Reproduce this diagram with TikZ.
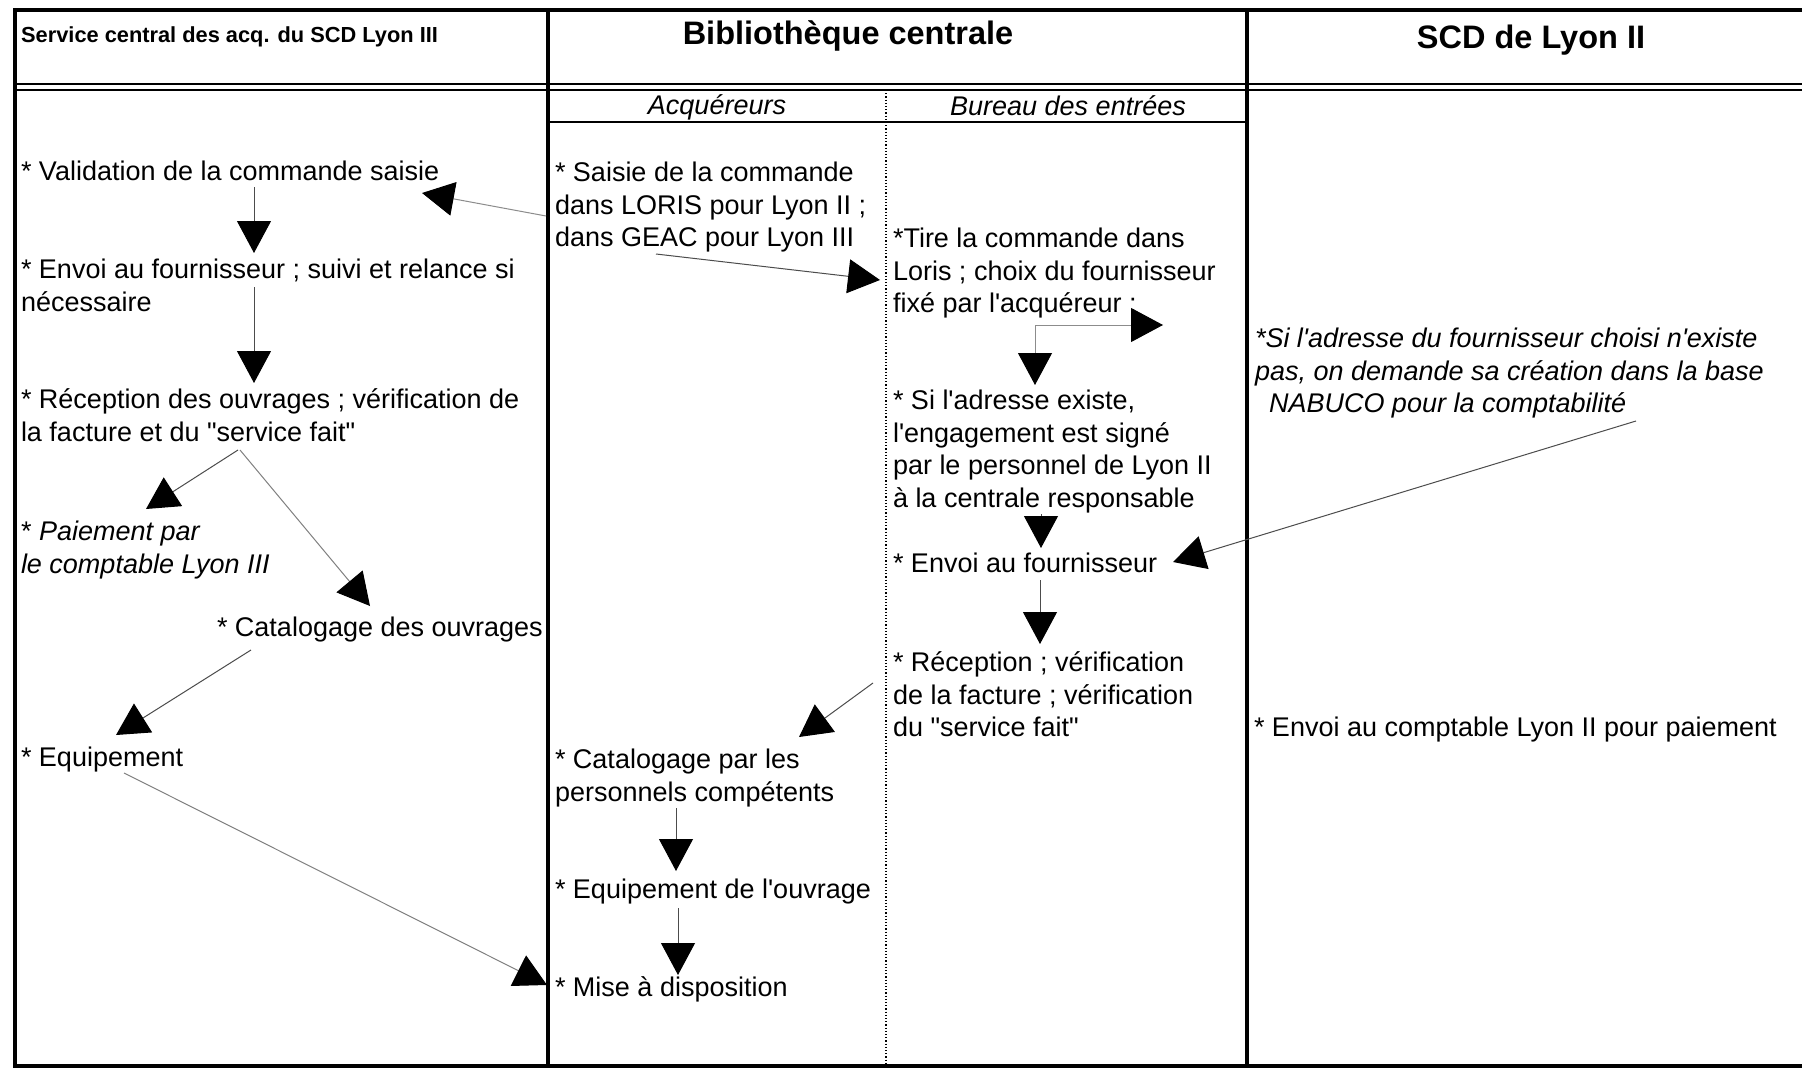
\documentclass[tikz,border=0pt]{standalone}
\usepackage{fontspec}
\setmainfont{Liberation Sans}[Ligatures=TeXOff]
\usetikzlibrary{arrows.meta}
\newcommand\bodyfs{\fontsize{27}{32.75}\selectfont}
\tikzset{
  txt/.style={anchor=north west, inner sep=0pt, outer sep=0pt, align=left, font=\bodyfs, yshift=-2.5pt},
  sub/.style={anchor=base, inner sep=0pt, font=\bodyfs\itshape, yshift=-2pt},
  arr/.style={draw=black!70, line width=1pt, -{Triangle[length=32pt,width=34pt,color=black]}},
  thick frame/.style={line width=4pt, line cap=rect},
}
\begin{document}
\begin{tikzpicture}[x=1pt,y=-1pt]
\useasboundingbox (0,0) rectangle (1802,1070);
\fill[white] (0,0) rectangle (1802,1070);

% frame
\draw[thick frame] (1802,10) -- (15,10) -- (15,1066) -- (1802,1066);
\draw[thick frame] (548,10) -- (548,1066);
\draw[thick frame] (1247,10) -- (1247,1066);
\draw[line width=2.5pt] (15,84) -- (1802,84);
\draw[line width=1.5pt] (15,90) -- (1802,90);
\draw[line width=2.5pt] (548,122) -- (1247,122);
\draw[line width=1.2pt, dotted] (886,90) -- (886,1066);

% headers
\node[anchor=base west, inner sep=0pt, font=\fontsize{21.8}{26}\selectfont\bfseries] (h1) at (21,43) {Service central des acq. du SCD Lyon III};
\node[anchor=base, inner sep=0pt, font=\fontsize{32.5}{39}\selectfont\bfseries] (h2) at (848,45) {Bibliothèque centrale};
\node[anchor=base, inner sep=0pt, font=\fontsize{32.5}{39}\selectfont\bfseries] (h3) at (1531,49) {SCD de Lyon II};
\node[sub] (s1) at (717,113) {Acquéreurs};
\node[sub] (s2) at (1068,114) {Bureau des entrées};

% left column
\node[txt] (n1) at (21,155) {\strut* Validation de la commande saisie};
\node[txt] (n2) at (21,253) {\strut* Envoi au fournisseur ; suivi et relance si\\nécessaire};
\node[txt] (n3) at (21,383) {\strut* Réception des ouvrages ; vérification de\\la facture et du "service fait"};
\node[txt] (n4) at (21,515) {\strut* \textit{Paiement par}\\\textit{le comptable Lyon III}};
\node[txt] (n5) at (217,611) {\strut* Catalogage des ouvrages};
\node[txt] (n6) at (21,741) {\strut* Equipement};

% acquereurs
\node[txt] (n7) at (555,156) {\strut* Saisie de la commande\\dans LORIS pour Lyon II ;\\dans GEAC pour Lyon III};
\node[txt] (n8) at (555,743) {\strut* Catalogage par les\\personnels compétents};
\node[txt] (n9) at (555,873) {\strut* Equipement de l'ouvrage};
\node[txt] (n10) at (555,971) {\strut* Mise à disposition};

% bureau des entrees
\node[txt] (n11) at (893,222) {\strut*Tire la commande dans\\Loris ; choix du fournisseur\\fixé par l'acquéreur ;};
\node[txt] (n12) at (893,384) {\strut* Si l'adresse existe,\\l'engagement est signé\\par le personnel de Lyon II\\à la centrale responsable};
\node[txt] (n13) at (893,547) {\strut* Envoi au fournisseur};
\node[txt] (n14) at (893,646) {\strut* Réception ; vérification\\de la facture ; vérification\\du "service fait"};

% SCD Lyon II
\node[txt, font=\bodyfs\itshape] (n15) at (1255,322) {\strut*Si l'adresse du fournisseur choisi n'existe\\pas, on demande sa création dans la base\\\hspace*{14pt}NABUCO pour la comptabilité};
\node[txt] (n16) at (1254,711) {\strut* Envoi au comptable Lyon II pour paiement};

% connector end points
\coordinate (a1s) at (546,216); \coordinate (a1e) at (422,193);
\coordinate (a2s) at (254,187); \coordinate (a2e) at (254,253);
\coordinate (a3s) at (254,287); \coordinate (a3e) at (254,383);
\coordinate (a4s) at (238,450); \coordinate (a4e) at (146,509);
\coordinate (a5s) at (240,450); \coordinate (a5e) at (370,606);
\coordinate (a6s) at (251,650); \coordinate (a6e) at (116,735);
\coordinate (a7s) at (124,773); \coordinate (a7e) at (547,985);
\coordinate (a8s) at (656,254); \coordinate (a8e) at (880,280);
\coordinate (c9) at (1035,325); \coordinate (a9r) at (1163,325); \coordinate (a9d) at (1035,385);
\coordinate (a10s) at (1041,514); \coordinate (a10e) at (1041,548);
\coordinate (a11s) at (1040,580); \coordinate (a11e) at (1040,644);
\coordinate (a12s) at (873,683); \coordinate (a12e) at (799,737);
\coordinate (a13s) at (676,808); \coordinate (a13e) at (676,871);
\coordinate (a14s) at (678,908); \coordinate (a14e) at (678,975);
\coordinate (a15s) at (1636,421); \coordinate (a15e) at (1173,562);

\draw[arr, draw=black!45] (a1s) -- (a1e);
\draw[arr] (a2s) -- (a2e);
\draw[arr] (a3s) -- (a3e);
\draw[arr] (a4s) -- (a4e);
\draw[arr, draw=black!50] (a5s) -- (a5e);
\draw[arr] (a6s) -- (a6e);
\draw[arr, draw=black!50] (a7s) -- (a7e);
\draw[arr] (a8s) -- (a8e);
\draw[arr, draw=black!45] (c9) -- (a9r);
\draw[arr, draw=black!45] (c9) -- (a9d);
\draw[arr] (a10s) -- (a10e);
\draw[arr] (a11s) -- (a11e);
\draw[arr] (a12s) -- (a12e);
\draw[arr] (a13s) -- (a13e);
\draw[arr] (a14s) -- (a14e);
\draw[arr] (a15s) -- (a15e);
\end{tikzpicture}
\end{document}
